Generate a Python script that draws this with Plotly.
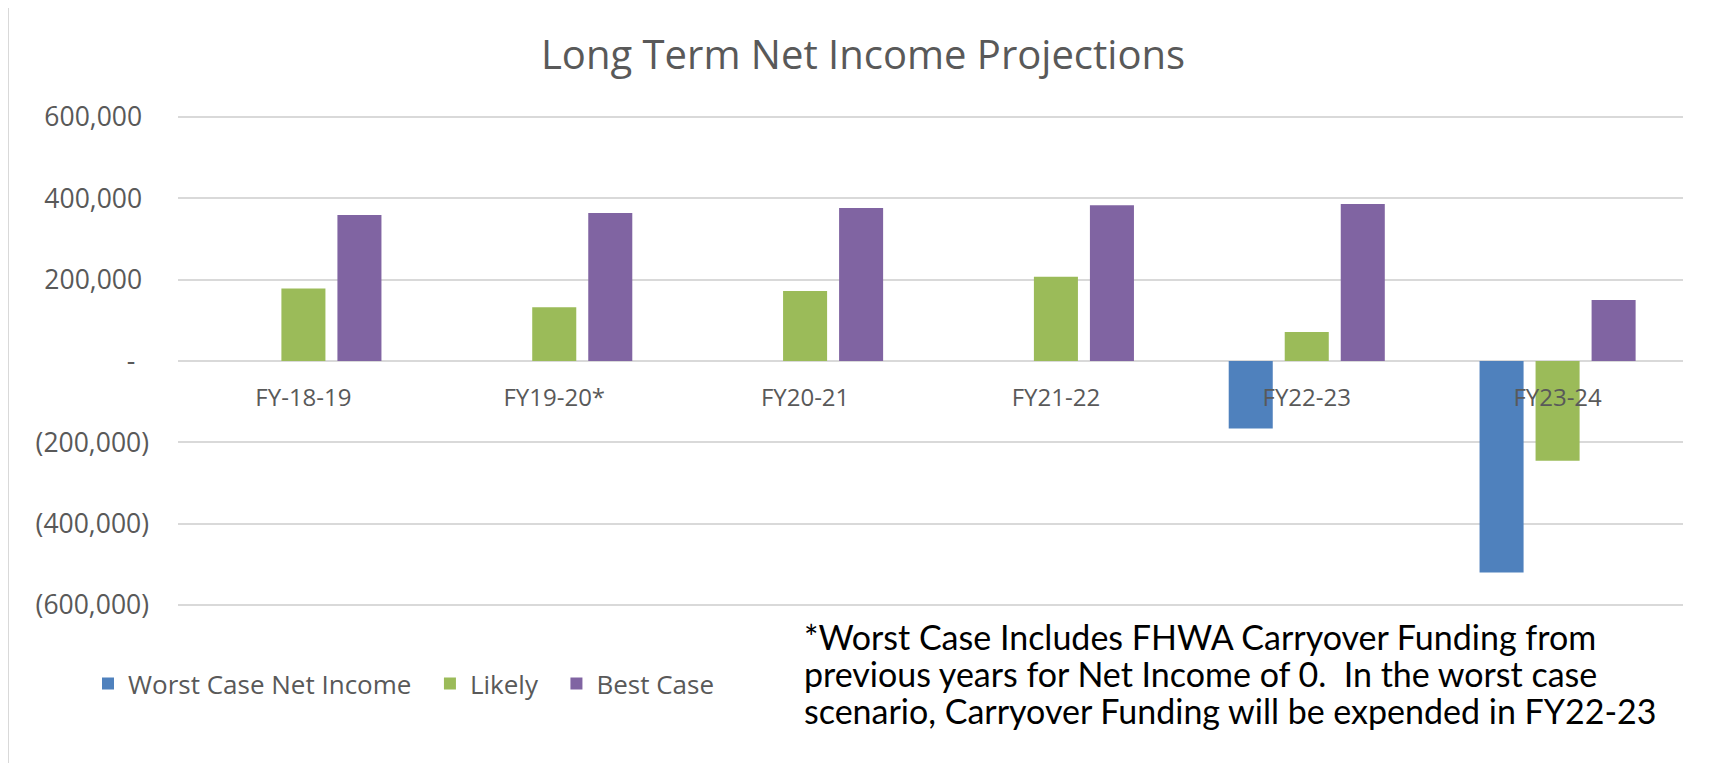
import plotly.graph_objects as go

categories = ["FY-18-19", "FY19-20*", "FY20-21", "FY21-22", "FY22-23", "FY23-24"]
worst_case = [0, 0, 0, 0, -166000, -520000]
likely = [178000, 132000, 172000, 207000, 71000, -245000]
best_case = [359000, 364000, 376000, 383000, 386000, 150000]

tick_vals = [600000, 400000, 200000, 0, -200000, -400000, -600000]
tick_text = ["600,000\u00a0", "400,000\u00a0", "200,000\u00a0", "-\u00a0\u00a0",
             "(200,000)", "(400,000)", "(600,000)"]

series_names = ["Worst Case Net Income", "Likely", "Best Case"]
series_colors = ["#4F81BD", "#9BBB59", "#8064A2"]

note_lines = [
    "*Worst Case Includes FHWA Carryover Funding from",
    "previous years for Net Income of 0.  In the worst case",
    "scenario, Carryover Funding will be expended in FY22-23",
]

GREY = "#595959"
GRID = "#D9D9D9"
PAD = "\u00a0\u00a0"

fig = go.Figure()
for name, vals, col in zip(series_names, [worst_case, likely, best_case], series_colors):
    fig.add_trace(go.Bar(name=name + PAD, x=categories, y=vals,
                         marker=dict(color=col, line=dict(width=0))))

# page body has an 8px margin; keep the figure inside the window and convert page px
OFF = 8
W, H = 1711, 755
L, R, T, B = 170, 36, 104.4, 152.6
pw, ph = W - L - R, H - T - B


def px_x(p):
    return (p - OFF - L) / pw


def px_y(p):
    return (H - B - (p - OFF)) / ph


fig.update_layout(
    width=W, height=H,
    margin=dict(l=L, r=R, t=T, b=B, autoexpand=False),
    paper_bgcolor="white", plot_bgcolor="white",
    barmode="group", bargap=0.33, bargroupgap=0.214,
    title=dict(text="Long Term Net Income Projections",
               font=dict(family="Open Sans", size=40, color=GREY),
               x=(863 - OFF) / W, xanchor="center", y=1 - 47 / H, yanchor="middle",
               yref="container"),
    font=dict(family="Open Sans", color=GREY),
    legend=dict(orientation="h", x=px_x(88), xanchor="left", y=px_y(684), yanchor="middle",
                font=dict(family="Open Sans", size=26, color=GREY),
                bgcolor="rgba(0,0,0,0)", itemwidth=30, traceorder="normal"),
    showlegend=True,
)

fig.update_yaxes(range=[-612000, 612000], tickvals=tick_vals, ticktext=tick_text,
                 showgrid=True, gridcolor=GRID, gridwidth=2,
                 zeroline=True, zerolinecolor=GRID, zerolinewidth=2,
                 showline=False, ticks="", ticklabelstandoff=28,
                 tickfont=dict(family="Open Sans", size=26.5, color=GREY), fixedrange=True)
fig.update_xaxes(anchor="free", position=0.5, showgrid=False, zeroline=False,
                 showline=False, ticks="", ticklabelstandoff=20,
                 tickfont=dict(family="Open Sans", size=24, color=GREY), fixedrange=True)

line_y = [637, 674, 711]
for txt, yy in zip(note_lines, line_y):
    fig.add_annotation(text=txt, xref="paper", yref="paper",
                       x=px_x(802), y=px_y(yy), xanchor="left", yanchor="middle",
                       align="left", showarrow=False,
                       font=dict(family="Lato", size=34, color="black"))

# chart border
fig.add_shape(type="rect", xref="paper", yref="paper",
              x0=px_x(8), x1=px_x(1712), y0=px_y(800), y1=px_y(5),
              line=dict(color=GRID, width=2), fillcolor="rgba(0,0,0,0)", layer="below")

fig.write_html("out.html")
